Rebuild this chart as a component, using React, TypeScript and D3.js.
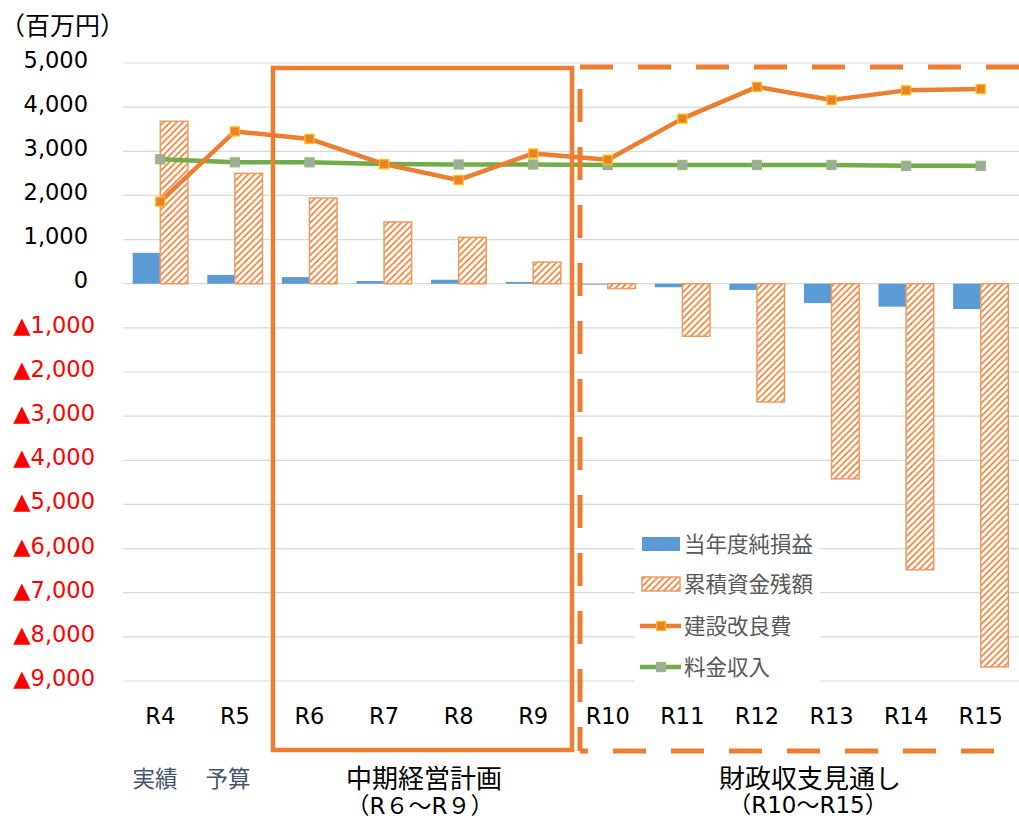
import React from 'react';
import * as d3 from 'd3';

// Fiscal years on the category axis
const categories = ['R4', 'R5', 'R6', 'R7', 'R8', 'R9', 'R10', 'R11', 'R12', 'R13', 'R14', 'R15'];
// 当年度純損益 (百万円)
const netIncome = [700, 200, 150, 60, 90, 40, -20, -80, -140, -440, -520, -575];
// 累積資金残額 (百万円)
const fundBalance = [3680, 2500, 1940, 1400, 1050, 490, -110, -1190, -2680, -4420, -6480, -8680];
// 建設改良費 (百万円)
const capex = [1860, 3450, 3280, 2710, 2350, 2950, 2810, 3740, 4460, 4160, 4380, 4410];
// 料金収入 (百万円)
const revenue = [2820, 2750, 2750, 2710, 2700, 2700, 2690, 2690, 2690, 2690, 2670, 2670];
// Value-axis ticks
const yTicks = [5000, 4000, 3000, 2000, 1000, 0, -1000, -2000, -3000, -4000, -5000, -6000, -7000, -8000, -9000];

const legendItems = ['当年度純損益', '累積資金残額', '建設改良費', '料金収入'];

const W = 1019;
const H = 823;
const ORANGE = '#ED7D31';
const BLUE = '#5B9BD5';
const GREEN = '#70AD47';
const NUM_FONT = "'DejaVu Sans', 'Noto Sans CJK JP', sans-serif";
const JP_FONT = "'Noto Sans CJK JP', sans-serif";
const MS = 9; // marker size

export default function App() {
  const x = d3.scaleBand<string>().domain(categories).range([123, 1018]).padding(0);
  const y = d3.scaleLinear().domain([-9000, 5000]).range([681, 63]);
  const bw = x.bandwidth();
  const groupW = bw * 0.74;
  const barW = groupW / 2;
  const cx = (c: string) => (x(c) as number) + bw / 2;

  const linePath = d3
    .line<number>()
    .x((_, i) => cx(categories[i]))
    .y((v) => y(v));

  const fmt = d3.format(',');
  const y0 = y(0);

  return (
    <svg
      width={W}
      height={H}
      style={{ position: 'absolute', left: 0, top: 0, background: '#fff' }}
      xmlns="http://www.w3.org/2000/svg"
    >
      <defs>
        <pattern id="hatch" width="6.5" height="6.5" patternUnits="userSpaceOnUse">
          <rect width="6.5" height="6.5" fill="#fff" />
          <path d="M-1,7.5 L7.5,-1 M-2,2 L2,-2 M4.5,8.5 L8.5,4.5" stroke={ORANGE} strokeWidth="1.6" />
        </pattern>
      </defs>

      {/* unit label */}
      <text x={0} y={24} fontFamily={JP_FONT} fontSize={25} textAnchor="start" dominantBaseline="central" fill="#000">
        （百万円）
      </text>

      {/* gridlines */}
      {yTicks.map((t) => (
        <line key={'g' + t} x1={123} x2={1019} y1={y(t)} y2={y(t)} stroke="#D9D9D9" strokeWidth={1.2} />
      ))}

      {/* value-axis labels */}
      {yTicks.map((t) =>
        t >= 0 ? (
          <text key={'t' + t} x={88} y={y(t) + 4.5} textAnchor="end" fontFamily={NUM_FONT} fontSize={22.5} fill="#000">
            {fmt(t)}
          </text>
        ) : (
          <text key={'t' + t} x={95} y={y(t) + 5} textAnchor="end" fontFamily={NUM_FONT} fontSize={22.5} fill="#FF0000">
            {'▲' + fmt(-t)}
          </text>
        )
      )}

      {/* 当年度純損益 bars */}
      {netIncome.map((v, i) => {
        const c = categories[i];
        const left = cx(c) - groupW / 2;
        return (
          <rect
            key={'n' + c}
            x={left}
            y={Math.min(y(v), y0)}
            width={barW}
            height={Math.abs(y(v) - y0)}
            fill={BLUE}
          />
        );
      })}

      {/* 累積資金残額 bars */}
      {fundBalance.map((v, i) => {
        const c = categories[i];
        const left = cx(c);
        return (
          <rect
            key={'f' + c}
            x={left}
            y={Math.min(y(v), y0)}
            width={barW}
            height={Math.abs(y(v) - y0)}
            fill="url(#hatch)"
            stroke="#F19A5E"
            strokeWidth={1.5}
          />
        );
      })}

      {/* 料金収入 line */}
      <path d={linePath(revenue) || ''} fill="none" stroke={GREEN} strokeWidth={4.5} strokeLinejoin="round" />
      {revenue.map((v, i) => (
        <rect
          key={'rm' + i}
          x={cx(categories[i]) - MS / 2}
          y={y(v) - MS / 2}
          width={MS}
          height={MS}
          fill="#A5A5A5"
          stroke="#8DC36C"
          strokeWidth={1.3}
        />
      ))}

      {/* 建設改良費 line */}
      <path d={linePath(capex) || ''} fill="none" stroke={ORANGE} strokeWidth={4.5} strokeLinejoin="round" />
      {capex.map((v, i) => (
        <rect
          key={'cm' + i}
          x={cx(categories[i]) - MS / 2}
          y={y(v) - MS / 2}
          width={MS}
          height={MS}
          fill={ORANGE}
          stroke="#FFC000"
          strokeWidth={1.3}
        />
      ))}

      {/* category labels */}
      {categories.map((c) => (
        <text key={'c' + c} x={cx(c)} y={724} textAnchor="middle" fontFamily={NUM_FONT} fontSize={22.5} fill="#000">
          {c}
        </text>
      ))}

      {/* legend */}
      <rect x={635} y={522} width={185} height={166} fill="#fff" />
      <rect x={642} y={537} width={38} height={14} fill={BLUE} />
      <rect x={642} y={577} width={38} height={14} fill="url(#hatch)" stroke="#F19A5E" strokeWidth={1.5} />
      <line x1={640} x2={681} y1={626} y2={626} stroke={ORANGE} strokeWidth={4.5} />
      <rect x={661 - MS / 2} y={626 - MS / 2} width={MS} height={MS} fill={ORANGE} stroke="#FFC000" strokeWidth={1.3} />
      <line x1={640} x2={681} y1={667} y2={667} stroke={GREEN} strokeWidth={4.5} />
      <rect x={661 - MS / 2} y={667 - MS / 2} width={MS} height={MS} fill="#A5A5A5" stroke="#8DC36C" strokeWidth={1.3} />
      {legendItems.map((t, i) => (
        <text
          key={'l' + t}
          x={684}
          y={[542, 582, 624, 665][i]}
          fontFamily={JP_FONT}
          fontSize={21.5}
          dominantBaseline="central"
          fill="#595959"
        >
          {t}
        </text>
      ))}

      {/* 中期経営計画 frame */}
      <rect x={273} y={68} width={299} height={682} fill="none" stroke={ORANGE} strokeWidth={4.5} />

      {/* 財政収支見通し frame (dashed) */}
      <line x1={580} x2={1019} y1={67} y2={67} stroke={ORANGE} strokeWidth={5} strokeDasharray="33 25" />
      <line x1={580} x2={580} y1={751} y2={67} stroke={ORANGE} strokeWidth={5} strokeDasharray="33 25" strokeDashoffset={9} />
      <line x1={580} x2={1019} y1={751} y2={751} stroke={ORANGE} strokeWidth={5} strokeDasharray="33 25" strokeDashoffset={25} />

      {/* period captions */}
      <text x={155} y={777} textAnchor="middle" dominantBaseline="central" fontFamily={JP_FONT} fontSize={22.5} fill="#44546A">
        実績
      </text>
      <text x={228} y={777} textAnchor="middle" dominantBaseline="central" fontFamily={JP_FONT} fontSize={22.5} fill="#44546A">
        予算
      </text>
      <text x={424} y={776} textAnchor="middle" dominantBaseline="central" fontFamily={JP_FONT} fontSize={26} fill="#000">
        中期経営計画
      </text>
      <text x={420} y={806} textAnchor="middle" dominantBaseline="central" fontFamily={NUM_FONT} fontSize={23} fill="#000">
        （R６～R９）
      </text>
      <text x={810} y={776} textAnchor="middle" dominantBaseline="central" fontFamily={JP_FONT} fontSize={26} fill="#000">
        財政収支見通し
      </text>
      <text x={808} y={805} textAnchor="middle" dominantBaseline="central" fontFamily={NUM_FONT} fontSize={23} fill="#000">
        （R10～R15）
      </text>
    </svg>
  );
}
